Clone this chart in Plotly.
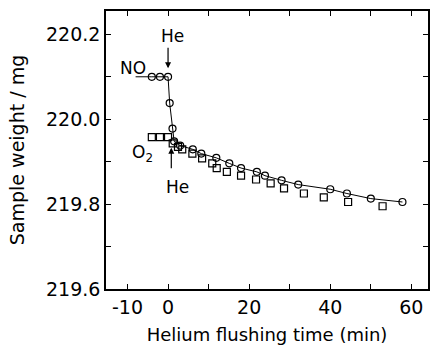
import plotly.graph_objects as go

# NO series (circles, connected)
no_x = [-4, -2, 0, 0.4, 1.1, 1.5, 3.0, 6.1, 8.2, 11.9, 15.1, 18.0, 21.9, 23.9, 28.0, 32.1, 40.0, 44.1, 50.0, 57.8]
no_y = [220.10, 220.10, 220.10, 220.038, 219.978, 219.948, 219.938, 219.929, 219.919, 219.909, 219.896, 219.885, 219.876, 219.867, 219.856, 219.846, 219.835, 219.825, 219.813, 219.805]
no_lead_x = [-8, -4]
no_lead_y = [220.10, 220.10]

# O2 series (squares)
o2_x = [-4, -2, 0, 1.15, 2.45, 3.5, 6.0, 8.4, 10.9, 12.0, 14.5, 18.0, 21.7, 25.3, 28.6, 33.5, 38.4, 44.4, 52.9]
o2_y = [219.958, 219.958, 219.958, 219.943, 219.935, 219.929, 219.919, 219.908, 219.896, 219.885, 219.876, 219.867, 219.858, 219.849, 219.837, 219.825, 219.816, 219.805, 219.795]

x_ticks = [-10, 0, 10, 20, 30, 40, 50, 60]
x_ticktext = ["-10", "0", "", "20", "", "40", "", "60"]
y_ticks = [219.6, 219.7, 219.8, 219.9, 220.0, 220.1, 220.2]
y_ticktext = ["219.6", "", "219.8", "", "220.0", "", "220.2"]

FONT = "DejaVu Sans"

fig = go.Figure()
fig.add_trace(go.Scatter(x=no_lead_x, y=no_lead_y, mode="lines",
                         line=dict(color="black", width=1), showlegend=False))
fig.add_trace(go.Scatter(x=no_x, y=no_y, mode="lines+markers",
                         line=dict(color="black", width=1),
                         marker=dict(symbol="circle-open", size=7, color="black",
                                     line=dict(width=1.2)),
                         showlegend=False))
fig.add_trace(go.Scatter(x=o2_x, y=o2_y, mode="markers",
                         marker=dict(symbol="square-open", size=7, color="black",
                                     line=dict(width=1.2)),
                         showlegend=False))

# annotations
fig.add_annotation(x=0, y=220.12, ax=0, ay=-22, xref="x", yref="y",
                   text="", showarrow=True, arrowhead=2, arrowsize=1, arrowwidth=1.2,
                   arrowcolor="black")
fig.add_annotation(x=1.1, y=220.195, text="He", showarrow=False,
                   font=dict(family=FONT, size=17, color="black"))
fig.add_annotation(x=0.8, y=219.933, ax=0, ay=22, xref="x", yref="y",
                   text="", showarrow=True, arrowhead=2, arrowsize=1, arrowwidth=1.2,
                   arrowcolor="black")
fig.add_annotation(x=2.4, y=219.84, text="He", showarrow=False,
                   font=dict(family=FONT, size=17, color="black"))
fig.add_annotation(x=-8.7, y=220.12, text="NO", showarrow=False,
                   font=dict(family=FONT, size=17, color="black"))
fig.add_annotation(x=-6.3, y=219.92, text="O<sub>2</sub>", showarrow=False,
                   font=dict(family=FONT, size=17, color="black"))

axis_common = dict(showgrid=False, zeroline=False, showline=True, linecolor="black",
                   linewidth=1.5, mirror="ticks", ticks="inside", ticklen=5,
                   tickwidth=1, tickcolor="black",
                   tickfont=dict(family=FONT, size=19, color="black"))

fig.update_layout(
    width=433, height=347,
    margin=dict(l=106, r=3, t=11, b=58),
    paper_bgcolor="white", plot_bgcolor="white",
    xaxis=dict(range=[-15.3, 64.1], tickvals=x_ticks, ticktext=x_ticktext,
               title=dict(text="Helium flushing time (min)", standoff=12,
                          font=dict(family=FONT, size=18, color="black")),
               **axis_common),
    yaxis=dict(range=[219.6, 220.255], tickvals=y_ticks, ticktext=y_ticktext,
               title=dict(text="Sample weight / mg", standoff=16,
                          font=dict(family=FONT, size=19, color="black")),
               **axis_common),
)

fig.write_html("out.html")
